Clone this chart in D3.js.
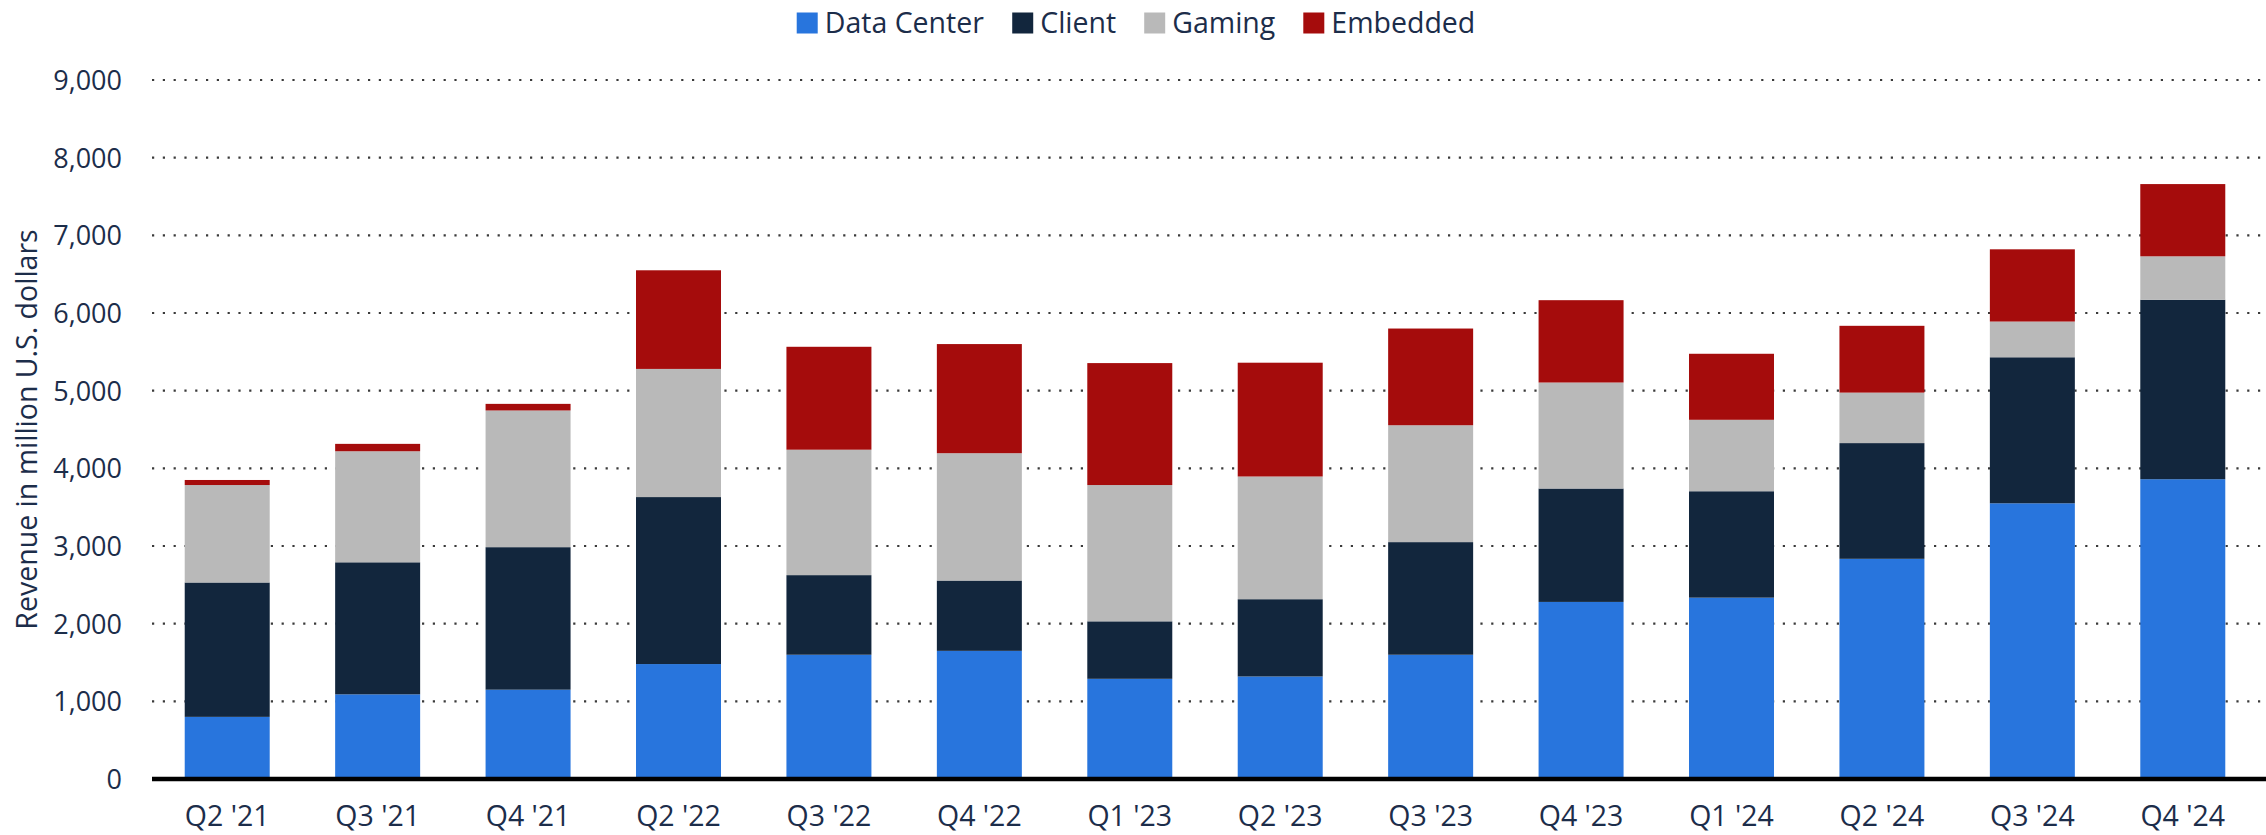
<!DOCTYPE html>
<html lang="en">
<head>
<meta charset="utf-8">
<title>Revenue by segment</title>
<script src="https://cdn.jsdelivr.net/npm/d3@7"></script>
<style>
  body { margin: 0; background: #fff; }
  text { font-family: "Open Sans", sans-serif; fill: #1c2d4a; }
</style>
</head>
<body>
<svg id="chart"></svg>
<script>
// data (million U.S. dollars)
const quarters = ["Q2 '21", "Q3 '21", "Q4 '21", "Q2 '22", "Q3 '22", "Q4 '22", "Q1 '23",
                  "Q2 '23", "Q3 '23", "Q4 '23", "Q1 '24", "Q2 '24", "Q3 '24", "Q4 '24"];
const dataCenter = [800, 1090, 1150, 1480, 1600, 1650, 1290, 1320, 1600, 2280, 2335, 2835, 3550, 3860];
const client     = [1730, 1700, 1835, 2150, 1025, 905, 740, 995, 1450, 1460, 1370, 1490, 1880, 2310];
const gaming     = [1255, 1430, 1760, 1650, 1615, 1640, 1755, 1580, 1505, 1365, 920, 650, 460, 560];
const embedded   = [65, 95, 85, 1270, 1325, 1405, 1570, 1465, 1245, 1060, 850, 860, 930, 930];
const seriesNames = ["Data Center", "Client", "Gaming", "Embedded"];
const colors = ["#2875dd", "#12263d", "#b9b9b9", "#a50c0c"];
const yTicks = [0, 1000, 2000, 3000, 4000, 5000, 6000, 7000, 8000, 9000];

const width = 2266, height = 835;
const margin = { top: 80, right: 8, bottom: 56, left: 152 };

const svg = d3.select("#chart")
    .attr("width", width)
    .attr("height", height);

const rows = quarters.map((q, i) => ({
    quarter: q,
    "Data Center": dataCenter[i],
    "Client": client[i],
    "Gaming": gaming[i],
    "Embedded": embedded[i]
}));

const stacked = d3.stack().keys(seriesNames)(rows);

const x = d3.scaleBand()
    .domain(quarters)
    .range([margin.left, width - margin.right])
    .paddingInner(0.435)
    .paddingOuter(0.2175);

const y = d3.scaleLinear()
    .domain([0, 9000])
    .range([height - margin.bottom, margin.top]);

const color = d3.scaleOrdinal().domain(seriesNames).range(colors);

// gridlines
svg.append("g")
    .selectAll("line")
    .data(yTicks.filter(d => d > 0))
    .enter()
    .append("line")
    .attr("x1", margin.left)
    .attr("x2", width)
    .attr("y1", d => y(d))
    .attr("y2", d => y(d))
    .attr("stroke", "#3a3a3a")
    .attr("stroke-width", 2.2)
    .attr("stroke-dasharray", "2.2,8.6");

// y tick labels
const yAxis = svg.append("g")
    .attr("transform", `translate(${margin.left},0)`)
    .call(d3.axisLeft(y).tickValues(yTicks).tickFormat(d3.format(",")).tickSize(0).tickPadding(30));
yAxis.select(".domain").remove();
yAxis.selectAll("text")
    .style("font-size", "27px")
    .attr("fill", "#1c2d4a")
    .attr("dy", "0.35em");

// bars
svg.append("g")
    .selectAll("g")
    .data(stacked)
    .enter()
    .append("g")
    .attr("fill", d => color(d.key))
    .selectAll("rect")
    .data(d => d)
    .enter()
    .append("rect")
    .attr("x", d => x(d.data.quarter))
    .attr("width", x.bandwidth())
    .attr("y", d => y(d[1]))
    .attr("height", d => y(d[0]) - y(d[1]));

// x axis
const xAxis = svg.append("g")
    .attr("transform", `translate(0,${y(0)})`)
    .call(d3.axisBottom(x).tickSize(0).tickPadding(27));
xAxis.select(".domain").remove();
xAxis.append("line")
    .attr("x1", margin.left)
    .attr("x2", width)
    .attr("stroke", "#000")
    .attr("stroke-width", 4.5);
xAxis.selectAll("text")
    .style("font-size", "28.5px")
    .attr("fill", "#1c2d4a");

// y axis title
svg.append("text")
    .attr("transform", `translate(27,${(y(0) + y(9000)) / 2}) rotate(-90)`)
    .attr("text-anchor", "middle")
    .attr("dy", "0.35em")
    .style("font-size", "28.5px")
    .text("Revenue in million U.S. dollars");

// legend
const legend = svg.append("g");
let lx = 0;
const items = legend.selectAll("g")
    .data(seriesNames)
    .enter()
    .append("g");
items.append("rect")
    .attr("width", 21)
    .attr("height", 21)
    .attr("y", -10.5)
    .attr("fill", d => color(d));
items.append("text")
    .attr("x", 28)
    .attr("dy", "0.35em")
    .style("font-size", "28.5px")
    .text(d => d);
items.each(function() {
    const w = this.getBBox().width;
    d3.select(this).attr("transform", `translate(${lx},0)`);
    lx += w + 28;
});
const total = lx - 28;
legend.attr("transform", `translate(${width / 2 - total / 2 + 3},23)`);
</script>
</body>
</html>
